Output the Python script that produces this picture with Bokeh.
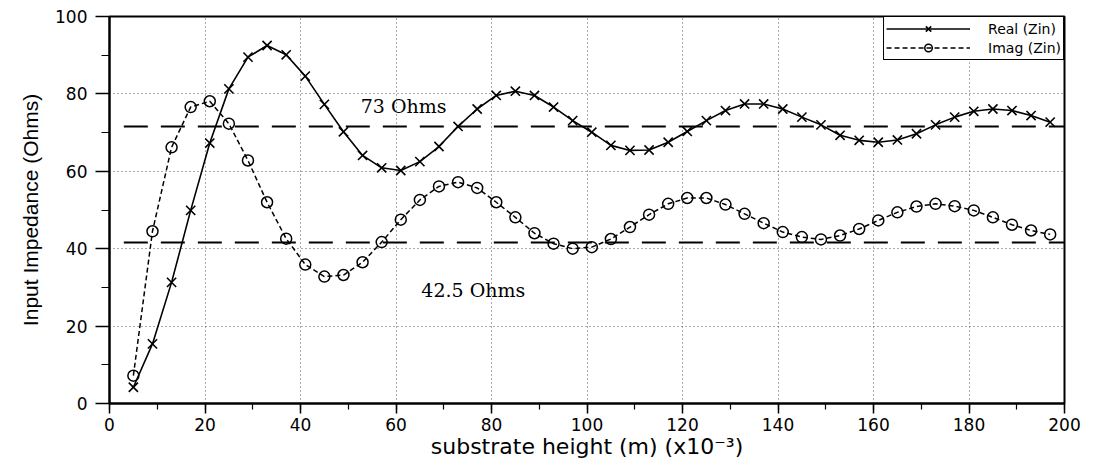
from bokeh.plotting import figure
from bokeh.models import SingleIntervalTicker, Range1d
from bokeh.core.properties import value
from bokeh.embed import file_html
from bokeh.resources import INLINE

# substrate height (x10^-3 m)
height = [5, 9, 13, 17, 21, 25, 29, 33, 37, 41, 45, 49, 53, 57, 61, 65, 69, 73, 77, 81,
          85, 89, 93, 97, 101, 105, 109, 113, 117, 121, 125, 129, 133, 137, 141, 145,
          149, 153, 157, 161, 165, 169, 173, 177, 181, 185, 189, 193, 197]

real_zin = [4.2, 15.4, 31.3, 49.9, 67.3, 81.3, 89.5, 92.5, 90.1, 84.6, 77.3, 70.2, 64.1,
            60.9, 60.2, 62.5, 66.4, 71.6, 76.1, 79.6, 80.7, 79.6, 76.6, 73.1, 70.1, 66.7,
            65.4, 65.5, 67.5, 70.3, 73.1, 75.7, 77.4, 77.4, 76.1, 74.0, 72.0, 69.3, 68.0,
            67.5, 68.1, 69.7, 72.0, 74.0, 75.5, 76.1, 75.7, 74.4, 72.7]

imag_zin = [7.2, 44.5, 66.2, 76.6, 78.1, 72.3, 62.8, 52.0, 42.6, 35.9, 32.8, 33.2, 36.5,
            41.7, 47.5, 52.6, 56.1, 57.2, 55.7, 52.0, 48.1, 44.0, 41.3, 40.0, 40.4, 42.5,
            45.6, 48.8, 51.6, 53.1, 53.1, 51.4, 49.0, 46.6, 44.3, 43.0, 42.4, 43.4, 45.1,
            47.3, 49.4, 50.9, 51.6, 51.0, 49.9, 48.1, 46.2, 44.7, 43.7]

# reference levels (dashed lines) and their annotations
ref_levels = [71.6, 41.6]
ref_x_span = [3, 206]
ann_text = ["73 Ohms", "42.5 Ohms"]
ann_x = [52.6, 65.3]
ann_y = [76.8, 29.4]

p = figure(width=1094, height=462, x_range=Range1d(0, 200), y_range=Range1d(0, 100),
           output_backend="svg", toolbar_location=None,
           min_border_left=109, min_border_right=30, min_border_top=16, min_border_bottom=59)

p.background_fill_color = "white"
p.border_fill_color = "white"
p.outline_line_color = "black"
p.outline_line_width = 2
p.outline_line_alpha = 1.0

p.xaxis.ticker = SingleIntervalTicker(interval=20, num_minor_ticks=2)
p.yaxis.ticker = SingleIntervalTicker(interval=20, num_minor_ticks=2)

for ax in (p.xaxis, p.yaxis):
    ax.axis_line_color = "black"
    ax.axis_line_width = 2
    ax.major_tick_line_color = "black"
    ax.minor_tick_line_color = "black"
    ax.major_tick_line_width = 1.5
    ax.minor_tick_line_width = 1.2
    ax.major_tick_in = 0
    ax.minor_tick_in = 0
    ax.major_label_text_font = "DejaVu Sans"
    ax.major_label_text_font_size = "17px"
    ax.major_label_text_color = "black"
    ax.axis_label_text_font_style = "normal"
    ax.axis_label_text_color = "black"

p.xaxis.major_tick_out = 10
p.xaxis.minor_tick_out = 6
p.xaxis.major_label_standoff = 4
p.xaxis.axis_label = "substrate height (m) (x10\u207b\u00b3)"
p.xaxis.axis_label_text_font = "DejaVu Sans"
p.xaxis.axis_label_text_font_size = "22px"
p.xaxis.axis_label_standoff = 0

p.yaxis.major_tick_out = 14
p.yaxis.minor_tick_out = 8
p.yaxis.major_label_standoff = 8
p.yaxis.axis_label = "Input Impedance (Ohms)"
p.yaxis.axis_label_text_font = "Liberation Sans"
p.yaxis.axis_label_text_font_size = "21px"
p.yaxis.axis_label_standoff = 10

for g in (p.xgrid, p.ygrid):
    g.grid_line_color = "#555555"
    g.grid_line_dash = "1 3"
    g.grid_line_width = 1

# reference dashed lines
for lvl in ref_levels:
    p.line(ref_x_span, [lvl, lvl], line_color="black", line_width=2, line_dash="24 13")

p.text(x=ann_x, y=ann_y, text=ann_text, text_font=value("DejaVu Serif"),
       text_font_size="19px", text_baseline="alphabetic", text_align="left", text_color="black")

p.line(height, real_zin, line_color="black", line_width=1.6, legend_label="Real (Zin)")
p.scatter(height, real_zin, marker="x", size=13, line_color="black", line_width=1.6,
          legend_label="Real (Zin)")

p.line(height, imag_zin, line_color="black", line_width=1.5, line_dash="5 3",
       legend_label="Imag (Zin)")
p.scatter(height, imag_zin, marker="circle", size=11, line_color="black", line_width=1.5,
          fill_color=None, legend_label="Imag (Zin)")

lg = p.legend[0]
lg.location = "top_right"
lg.margin = 0
lg.padding = 2
lg.spacing = 0
lg.border_line_color = "black"
lg.border_line_width = 1.5
lg.border_line_alpha = 1.0
lg.background_fill_alpha = 1.0
lg.glyph_width = 84
lg.glyph_height = 19
lg.label_height = 19
lg.label_standoff = 18
lg.label_text_font = "DejaVu Sans"
lg.label_text_font_size = "14px"
lg.label_text_color = "black"
lg.label_text_baseline = "middle"

open("out.html", "w").write(file_html(p, INLINE))
